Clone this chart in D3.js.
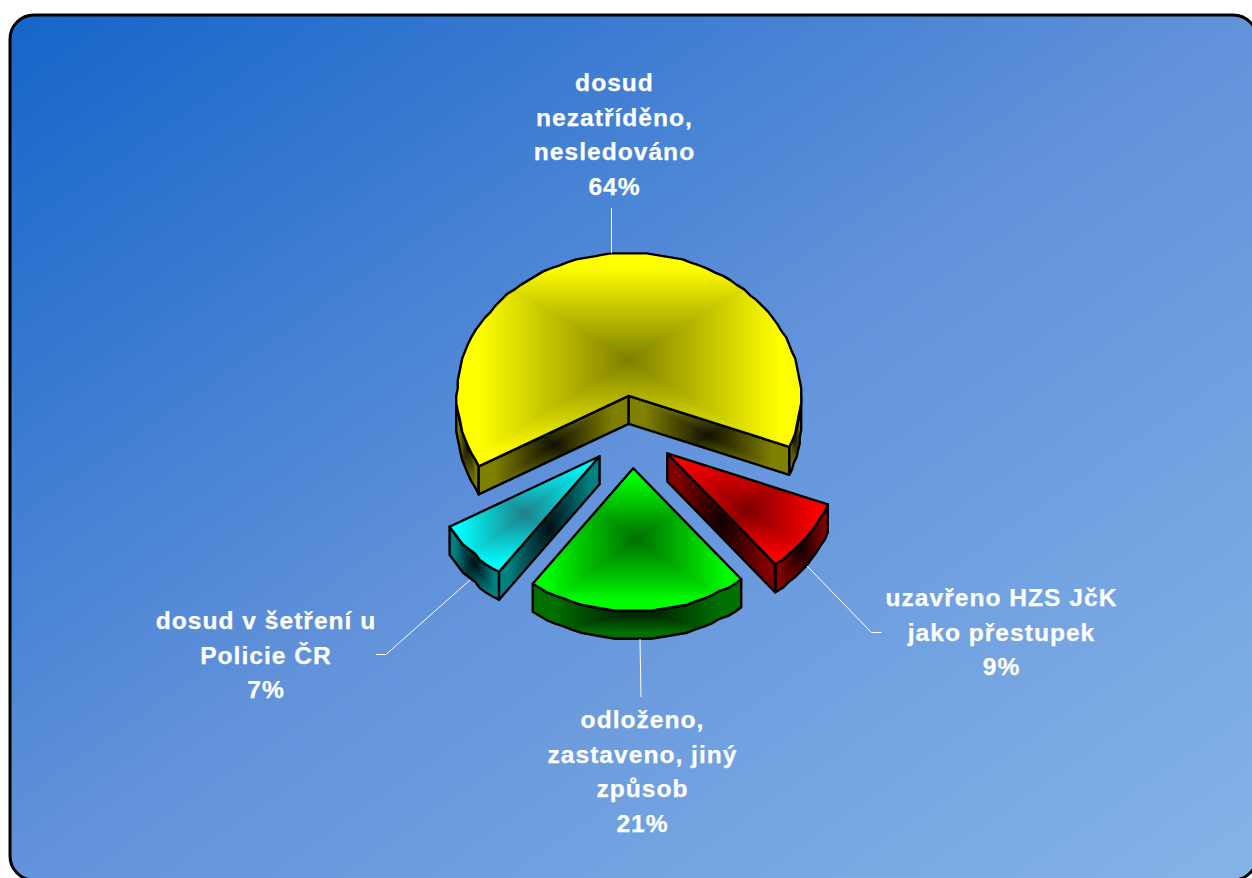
<!DOCTYPE html>
<html>
<head>
<meta charset="utf-8">
<script src="https://cdn.jsdelivr.net/npm/d3@7"></script>
<style>
  html, body { margin: 0; background: #fff; }
  svg { display: block; }
  text { font-family: "Liberation Sans", Arial, sans-serif; font-weight: bold; font-size: 24.6px; letter-spacing: 1px; fill: #fff; stroke: #fff; stroke-width: 0.25px; }
</style>
</head>
<body>
<div id="chart"></div>
<script>
// Data
const shares = [64.1, 8.3, 20.8, 6.8];
const percentLabels = ["64%", "9%", "21%", "7%"];
const categoryLines = [
  ["dosud", "nezatříděno,", "nesledováno"],
  ["uzavřeno HZS JčK", "jako přestupek"],
  ["odloženo,", "zastaveno, jiný", "způsob"],
  ["dosud v šetření u", "Policie ČR"]
];
const topColors = ["#ffff00", "#ff0000", "#00ff00", "#00ffff"];
const midColors = ["#7f7f00", "#7f0000", "#006f00", "#1f8088"];
const wallColors = ["#808000", "#800000", "#007000", "#008080"];
const wallDark = ["#101000", "#100000", "#001000", "#001014"];

const width = 1252;
const height = 878;
const cx = 632, cy = 432;
const radiusX = 172, radiusY = 143;
const explode = 0.2535;
const depth = 28;

const svg = d3.select("#chart").append("svg")
  .attr("width", width)
  .attr("height", height);
const defs = svg.append("defs");

// Background panel
const bg = defs.append("linearGradient").attr("id", "bg")
  .attr("x1", 0).attr("y1", 0).attr("x2", 1).attr("y2", 1);
bg.append("stop").attr("offset", 0).attr("stop-color", "#1565c9");
bg.append("stop").attr("offset", 0.5).attr("stop-color", "#6292da");
bg.append("stop").attr("offset", 1).attr("stop-color", "#85b4e8");

svg.append("rect")
  .attr("x", 10).attr("y", 15)
  .attr("width", 1247).attr("height", 865)
  .attr("rx", 24)
  .attr("fill", "url(#bg)")
  .attr("stroke", "#000")
  .attr("stroke-width", 3);

// Tilted pie: same unit circle, squashed by the two scales
const x = d3.scaleLinear().domain([-1, 1]).range([-radiusX, radiusX]);
const y = d3.scaleLinear().domain([-1, 1]).range([-radiusY, radiusY]);

const pie = d3.pie().sort(null).value(d => d)
  .startAngle(240.3 * Math.PI / 180)
  .endAngle((240.3 + 360) * Math.PI / 180);
const slices = pie(shares);

// the outline in the original is a slightly wobbly polyline
const snap = v => Math.round(v / 1.5) * 1.5;

function arcPoints(a0, a1, ox, oy) {
  const n = Math.max(2, Math.ceil((a1 - a0) / (3 * Math.PI / 180)));
  return d3.range(n + 1).map(i => {
    const a = a0 + (a1 - a0) * i / n;
    return [ox + snap(x(Math.sin(a))), oy + snap(y(-Math.cos(a)))];
  });
}

const line = d3.line();
const closed = d3.line().curve(d3.curveLinearClosed);
let clipCount = 0;

// "from centre" rectangular fill: nested rectangles over the bounding box, clipped to the shape
function boxFill(g, pts, inner, outer, reach) {
  const id = `clip${clipCount++}`;
  const d = closed(pts);
  defs.append("clipPath").attr("id", id).append("path").attr("d", d);
  const [x0, x1] = d3.extent(pts, p => p[0]);
  const [y0, y1] = d3.extent(pts, p => p[1]);
  const shade = d3.scaleLinear().domain([0, reach]).range([inner, outer]).clamp(true);
  g.append("g").attr("clip-path", `url(#${id})`)
    .selectAll("rect").data(d3.range(1, 0, -1 / 90)).join("rect")
    .attr("x", t => (x0 + x1) / 2 - (x1 - x0) / 2 * t)
    .attr("y", t => (y0 + y1) / 2 - (y1 - y0) / 2 * t)
    .attr("width", t => (x1 - x0) * t)
    .attr("height", t => (y1 - y0) * t)
    .attr("fill", t => shade(t));
  g.append("path").attr("d", d)
    .attr("fill", "none")
    .attr("stroke", "#000").attr("stroke-width", 2.4).attr("stroke-linejoin", "round");
}

function radialWall(g, a, ox, oy, i) {
  const p = [ox + snap(x(Math.sin(a))), oy + snap(y(-Math.cos(a)))];
  boxFill(g, [[ox, oy], p, [p[0], p[1] + depth], [ox, oy + depth]], wallDark[i], wallColors[i], 0.8);
}

function outerWall(g, a0, a1, ox, oy, i) {
  const pts = arcPoints(a0, a1, ox, oy);
  const lower = pts.map(p => [p[0], p[1] + depth]).reverse();
  boxFill(g, pts.concat(lower), wallDark[i], wallColors[i], 0.8);
}

const front = Math.PI / 2, back = 3 * Math.PI / 2;

slices.forEach((s, i) => {
  const midAngle = (s.startAngle + s.endAngle) / 2;
  const ox = cx + x(Math.sin(midAngle) * explode);
  const oy = cy + y(-Math.cos(midAngle) * explode);
  const g = svg.append("g").attr("class", "slice");

  // outer wall: only the part of the rim that faces the viewer
  [0, 2 * Math.PI].forEach(turn => {
    const a0 = Math.max(s.startAngle, front + turn);
    const a1 = Math.min(s.endAngle, back + turn);
    if (a1 > a0) outerWall(g, a0, a1, ox, oy, i);
  });

  // radial walls, only when they face the viewer
  if (Math.sin(s.startAngle) < 0) radialWall(g, s.startAngle, ox, oy, i);
  if (Math.sin(s.endAngle) > 0) radialWall(g, s.endAngle, ox, oy, i);

  // top face
  const pts = [[ox, oy]].concat(arcPoints(s.startAngle, s.endAngle, ox, oy));
  boxFill(g, pts, midColors[i], topColors[i], 0.88);
});

// Data labels
const labelPos = [[614.5, 91], [1001.5, 606], [642.5, 728], [266, 629]];
const lineStep = 34.5;
categoryLines.forEach((lines, i) => {
  const t = svg.append("text").attr("text-anchor", "middle");
  lines.concat(percentLabels[i]).forEach((l, j) => {
    t.append("tspan")
      .attr("x", labelPos[i][0])
      .attr("y", labelPos[i][1] + j * lineStep)
      .text(l);
  });
});

// Leader lines
const leaders = [
  [[611.5, 208], [611.5, 253]],
  [[807, 566], [871.5, 632.5], [881.5, 632.5]],
  [[640, 639], [641, 697]],
  [[470, 580], [386, 654.5], [376, 654.5]]
];
svg.selectAll(".leader").data(leaders).join("path")
  .attr("class", "leader")
  .attr("d", line)
  .attr("fill", "none")
  .attr("stroke", "#fff")
  .attr("stroke-width", 1);
</script>
</body>
</html>
